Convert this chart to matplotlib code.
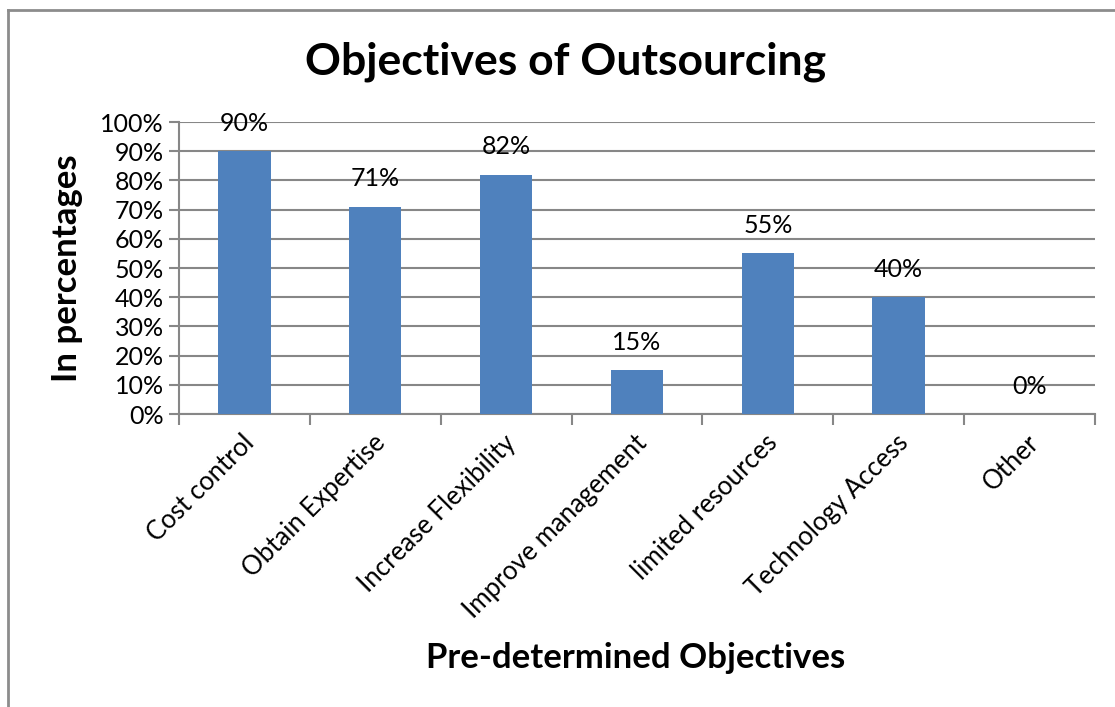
import matplotlib
matplotlib.use("Agg")
import matplotlib.pyplot as plt
from matplotlib.lines import Line2D
import numpy as np

categories = ["Cost control", "Obtain Expertise", "Increase Flexibility",
              "Improve management", "limited resources", "Technology Access", "Other"]
values = [90, 71, 82, 15, 55, 40, 0]
y_ticks = [0, 10, 20, 30, 40, 50, 60, 70, 80, 90, 100]

plt.rcParams['font.family'] = ['Lato', 'DejaVu Sans']

BAR = "#4F81BD"
GRID = "#878787"

fig = plt.figure(figsize=(11.15, 7.07), dpi=100)
ax = fig.add_axes([0.1605, 0.4144, 0.8215, 0.4130])

x = np.arange(len(categories))
ax.bar(x, values, width=0.4, color=BAR, zorder=3)

ax.set_xlim(-0.5, len(categories) - 0.5)
ax.set_ylim(0, 100)
ax.set_yticks(y_ticks)
ax.set_yticklabels([f"{t}%" for t in y_ticks], fontsize=18)
ax.yaxis.grid(True, color=GRID, linewidth=1.5, zorder=0)
ax.set_axisbelow(True)

# category ticks sit on the boundaries between bars
ax.set_xticks(np.arange(len(categories) + 1) - 0.5)
ax.set_xticklabels([])
ax.tick_params(axis='x', direction='out', length=8, width=1.5, color=GRID)
ax.tick_params(axis='y', direction='out', length=7, width=1.5, color=GRID, pad=4)

for side in ("top", "right"):
    ax.spines[side].set_visible(False)
for side in ("left", "bottom"):
    ax.spines[side].set_color(GRID)
    ax.spines[side].set_linewidth(1.5)

# rotated category names
for xi, name in zip(x, categories):
    ax.annotate(name, xy=(xi, 0), xycoords=('data', 'axes fraction'),
                xytext=(6, -25), textcoords='offset pixels',
                rotation=45, ha='right', va='center', rotation_mode='anchor',
                fontsize=18.5)

# value labels above bars
for xi, v in zip(x, values):
    ax.annotate(f"{v}%", xy=(xi, v), xytext=(0, 28), textcoords='offset pixels',
                ha='center', va='center', fontsize=18)

fig.text(0.507, 0.912, "Objectives of Outsourcing", ha='center', va='center',
         fontsize=32, fontweight='bold')
fig.text(0.060, 0.621, "In percentages", ha='center', va='center', rotation=90,
         fontsize=25, fontweight='bold')
fig.text(0.570, 0.069, "Pre-determined Objectives", ha='center', va='center',
         fontsize=25, fontweight='bold')

# outer chart frame (left and top edges)
fig.add_artist(Line2D([0.0075, 0.0075], [0.0, 0.986], transform=fig.transFigure,
                      color="#8c8c8c", linewidth=2))
fig.add_artist(Line2D([0.0075, 1.0], [0.986, 0.986], transform=fig.transFigure,
                      color="#8c8c8c", linewidth=2))

fig.savefig("out.png", dpi=100, facecolor="white")
